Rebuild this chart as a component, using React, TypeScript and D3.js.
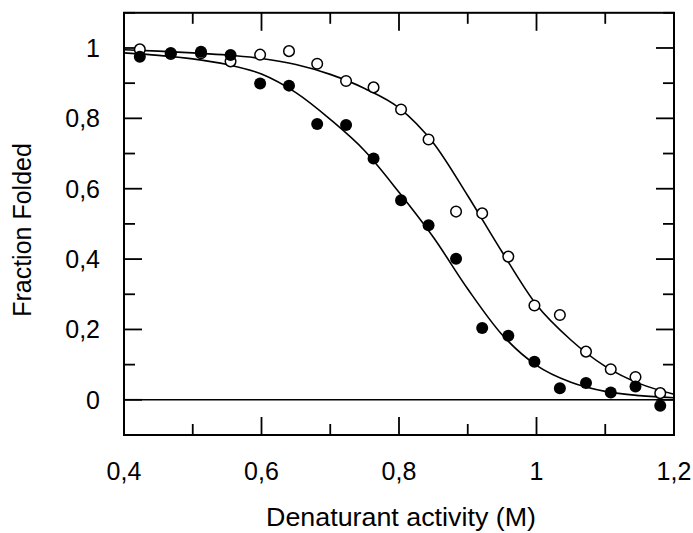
import React from "react";
import * as d3 from "d3";

// Measured points
const denaturant = [0.423, 0.468, 0.512, 0.555, 0.598, 0.640, 0.681, 0.723, 0.763, 0.803, 0.843, 0.883, 0.921, 0.959, 0.997, 1.034, 1.072, 1.108, 1.144, 1.180];
const filledFraction = [0.975, 0.986, 0.989, 0.980, 0.899, 0.893, 0.784, 0.781, 0.686, 0.567, 0.496, 0.401, 0.204, 0.182, 0.108, 0.033, 0.048, 0.021, 0.038, -0.017];
const openFraction = [0.996, 0.983, 0.985, 0.962, 0.981, 0.991, 0.955, 0.906, 0.888, 0.825, 0.740, 0.535, 0.530, 0.407, 0.268, 0.241, 0.137, 0.087, 0.065, 0.019];

// Fitted curves
const fitX = [0.40, 0.45, 0.50, 0.55, 0.60, 0.65, 0.70, 0.75, 0.80, 0.85, 0.90, 0.95, 1.00, 1.05, 1.10, 1.15, 1.20];
const fitFilled = [0.986, 0.979, 0.969, 0.953, 0.926, 0.873, 0.797, 0.708, 0.590, 0.462, 0.315, 0.185, 0.098, 0.050, 0.024, 0.012, 0.006];
const fitOpen = [0.995, 0.991, 0.986, 0.980, 0.970, 0.953, 0.925, 0.885, 0.830, 0.730, 0.580, 0.420, 0.270, 0.170, 0.095, 0.046, 0.016];

const xMajor = [0.4, 0.6, 0.8, 1.0, 1.2];
const xMinor = [0.5, 0.7, 0.9, 1.1];
const xLabels = ["0,4", "0,6", "0,8", "1", "1,2"];
const yMajor = [0, 0.2, 0.4, 0.6, 0.8, 1.0];
const yMinor = [-0.1, 0.1, 0.3, 0.5, 0.7, 0.9, 1.1];
const yLabels = ["0", "0,2", "0,4", "0,6", "0,8", "1"];

const xTitle = "Denaturant activity (M)";
const yTitle = "Fraction Folded";

export default function App() {
  const W = 693, H = 533;
  const left = 124, right = 674, top = 12.8, bottom = 435;
  const x = d3.scaleLinear().domain([0.4, 1.2]).range([left, right]);
  const y = d3.scaleLinear().domain([-0.1, 1.1]).range([bottom, top]);
  const line = d3.line<[number, number]>().x(d => x(d[0])).y(d => y(d[1])).curve(d3.curveMonotoneX);
  const font = "'Liberation Sans', Arial, Helvetica, sans-serif";
  const majorLen = 18, minorLen = 11;
  const sw = 1.8;
  const fs = 25;

  return (
    <svg width={W} height={H} style={{ position: "absolute", left: 0, top: 0, background: "#fff" }} fontFamily={font}>
      {/* zero line */}
      <line x1={left} x2={right} y1={y(0)} y2={y(0)} stroke="#000" strokeWidth={1.5} />
      {/* curves */}
      <path d={line(fitX.map((v, i) => [v, fitFilled[i]]) as any) || ""} fill="none" stroke="#000" strokeWidth={1.6} />
      <path d={line(fitX.map((v, i) => [v, fitOpen[i]]) as any) || ""} fill="none" stroke="#000" strokeWidth={1.6} />
      {/* frame */}
      <rect x={left} y={top} width={right - left} height={bottom - top} fill="none" stroke="#000" strokeWidth={2} />
      {/* x ticks */}
      {xMajor.map((v, i) => (
        <g key={"xM" + i}>
          <line x1={x(v)} x2={x(v)} y1={bottom} y2={bottom - majorLen} stroke="#000" strokeWidth={sw} />
          <line x1={x(v)} x2={x(v)} y1={top} y2={top + majorLen} stroke="#000" strokeWidth={sw} />
          <text x={x(v)} y={480} textAnchor="middle" fontSize={fs}>{xLabels[i]}</text>
        </g>
      ))}
      {xMinor.map((v, i) => (
        <g key={"xm" + i}>
          <line x1={x(v)} x2={x(v)} y1={bottom} y2={bottom - minorLen} stroke="#000" strokeWidth={sw} />
          <line x1={x(v)} x2={x(v)} y1={top} y2={top + minorLen} stroke="#000" strokeWidth={sw} />
        </g>
      ))}
      {/* y ticks */}
      {yMajor.map((v, i) => (
        <g key={"yM" + i}>
          <line x1={left} x2={left + majorLen} y1={y(v)} y2={y(v)} stroke="#000" strokeWidth={sw} />
          <line x1={right} x2={right - majorLen} y1={y(v)} y2={y(v)} stroke="#000" strokeWidth={sw} />
          <text x={100} y={y(v)} dy="0.36em" textAnchor="end" fontSize={fs}>{yLabels[i]}</text>
        </g>
      ))}
      {yMinor.map((v, i) => (
        <g key={"ym" + i}>
          <line x1={left} x2={left + minorLen} y1={y(v)} y2={y(v)} stroke="#000" strokeWidth={sw} />
          <line x1={right} x2={right - minorLen} y1={y(v)} y2={y(v)} stroke="#000" strokeWidth={sw} />
        </g>
      ))}
      {/* points: open first, filled on top */}
      {denaturant.map((v, i) => (
        <circle key={"o" + i} cx={x(v)} cy={y(openFraction[i])} r={5.3} fill="#fff" stroke="#000" strokeWidth={1.5} />
      ))}
      {denaturant.map((v, i) => (
        <circle key={"f" + i} cx={x(v)} cy={y(filledFraction[i])} r={6} fill="#000" />
      ))}
      {/* titles */}
      <text x={401} y={526} textAnchor="middle" fontSize={fs} textLength={270} lengthAdjust="spacingAndGlyphs">{xTitle}</text>
      <text transform={`translate(31,${230}) rotate(-90)`} textAnchor="middle" fontSize={fs}>{yTitle}</text>
    </svg>
  );
}
